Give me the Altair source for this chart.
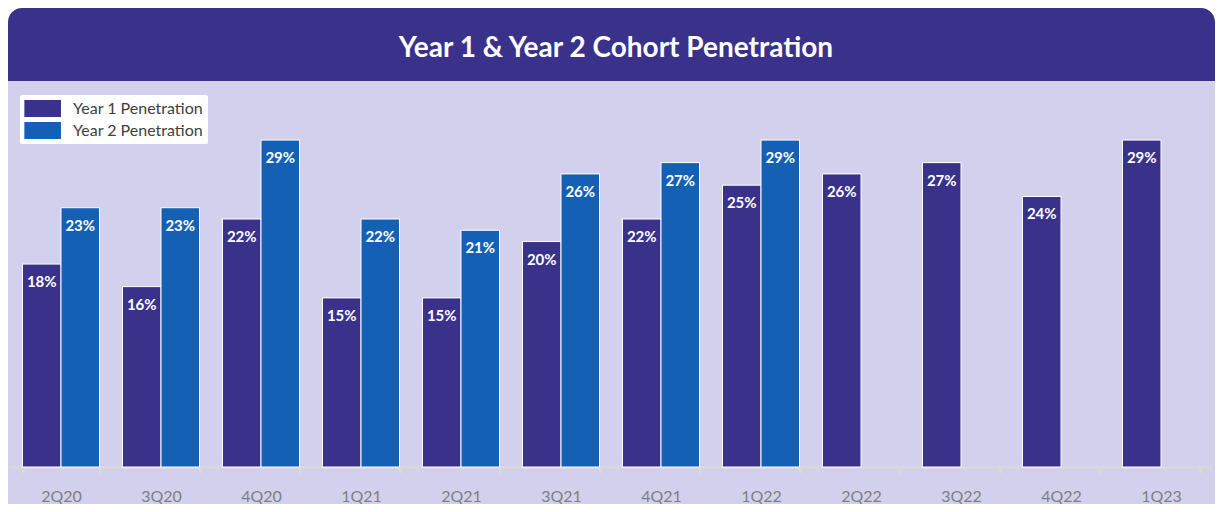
import altair as alt
import pandas as pd

quarters = ["2Q20", "3Q20", "4Q20", "1Q21", "2Q21", "3Q21", "4Q21", "1Q22", "2Q22", "3Q22", "4Q22", "1Q23"]
year1 = [18, 16, 22, 15, 15, 20, 22, 25, 26, 27, 24, 29]
year2 = [23, 23, 29, 22, 21, 26, 27, 29]
series_names = ["Year 1 Penetration", "Year 2 Penetration"]
colors = ["#3A318A", "#1460B4"]
title_text = "Year 1 & Year 2 Cohort Penetration"

rows = []
for q, v in zip(quarters, year1):
    rows.append({"quarter": q, "series": series_names[0], "value": v / 100})
for q, v in zip(quarters, year2):
    rows.append({"quarter": q, "series": series_names[1], "value": v / 100})
df = pd.DataFrame(rows)

W, H = 1200, 372
FONT = "Lato"

x = alt.X(
    "quarter:N",
    sort=quarters,
    scale=alt.Scale(paddingInner=0.23, paddingOuter=0.115),
    axis=alt.Axis(
        title=None, labelAngle=0, labelFont=FONT, labelFontSize=16,
        labelColor="#7F7F7F", labelPadding=15, domainColor="#D9D9D9",
        domainWidth=3, tickColor="#D9D9D9", tickWidth=3, tickSize=6,
        tickBand="extent", grid=False,
    ),
)
xoff = alt.XOffset("series:N", scale=alt.Scale(domain=series_names, paddingInner=0.0))
y = alt.Y("value:Q", scale=alt.Scale(domain=[0, 0.33]), axis=None)
color = alt.Color(
    "series:N",
    scale=alt.Scale(domain=series_names, range=colors),
    legend=alt.Legend(title=None, orient="none", legendX=9, legendY=0),
)

one = alt.Data(values=[{"t": title_text}])
corner_white = alt.Chart(one).mark_rect(color="white").encode(
    x=alt.value(-3), x2=alt.value(W + 4), y=alt.value(-87), y2=alt.value(-60)
)
band = alt.Chart(one).mark_rect(
    color="#3A318A", cornerRadiusTopLeft=14, cornerRadiusTopRight=14
).encode(x=alt.value(-3), x2=alt.value(W + 4), y=alt.value(-87), y2=alt.value(-14))
title = alt.Chart(one).mark_text(
    color="white", fontSize=28, font=FONT, fontWeight="bold",
    align="center", baseline="alphabetic",
).encode(x=alt.value(605), y=alt.value(-38), text="t:N")

base = alt.Chart(df)
bars = base.mark_bar(stroke="white", strokeWidth=1).encode(x=x, xOffset=xoff, y=y, color=color)
labels = base.mark_text(
    dy=18, baseline="middle", align="center", color="white",
    fontWeight="bold", fontSize=15, font=FONT,
).encode(x=x, xOffset=xoff, y=y, text=alt.Text("value:Q", format=".0%"))

chart = (
    alt.layer(corner_white, band, title, bars, labels)
    .properties(
        width=W, height=H,
        autosize=alt.AutoSizeParams(type="none"),
        padding={"left": 3, "top": 87, "right": 4, "bottom": 37},
        background="#D3D0EE",
    )
    .configure_view(stroke=None)
    .configure_legend(
        fillColor="white", padding=4, symbolType="M-1,-0.93H3V0.93H-1Z",
        symbolSize=335, symbolStrokeWidth=0, symbolOpacity=1,
        labelFont=FONT, labelFontSize=16, labelColor="#404040",
        labelOffset=30, rowPadding=3, cornerRadius=2,
    )
)
chart.save("out.html", embed_options={"renderer": "svg", "actions": False})
